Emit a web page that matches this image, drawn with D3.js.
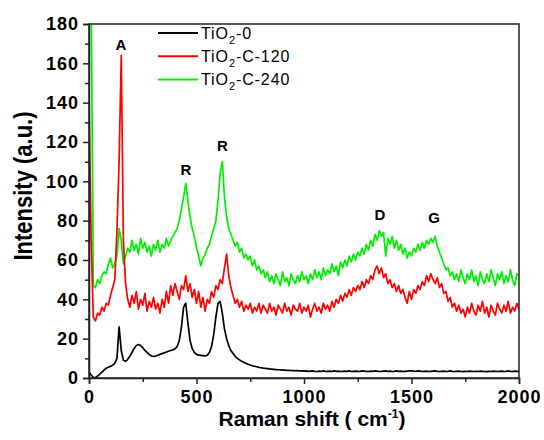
<!DOCTYPE html>
<html>
<head>
<meta charset="utf-8">
<script src="https://cdn.jsdelivr.net/npm/d3@7"></script>
<style>
  body { margin:0; background:#fff; font-family:"Liberation Sans", Arial, sans-serif; }
  .tick text { font-weight:bold; font-size:18px; letter-spacing:1px; fill:#000; }
  .domain, .tick line { stroke:#222; stroke-width:1.5px; }
</style>
</head>
<body>
<svg id=chart width=544 height=440></svg>
<script>
// Raman shift grid, cm-1 (one reading every 10 cm-1)
var shift = d3.range(0, 2001, 10)

// TiO2-0
var tio2_0 = [
 3,1.5,0.3,0.2,1,2,3,4,5,5.5,            // 0
 6,6.5,7.5,10,26,14,9,8.5,9.5,11,        // 100
 13,15,16.5,17,16.5,15.5,14,13,12,11.2,  // 200
 11,11.2,11.6,12,12.4,12.8,13.2,13.6,14,14.3, // 300
 14.8,16,19,26,36,38,28,19,15,13,        // 400
 12,11.6,11.5,11.4,11.2,11.6,13,16,22,31, // 500
 38,39,33,25,20,16.5,14,12.5,11,10,      // 600
 9.2,8.5,8,7.5,7,6.6,6.2,6,5.7,5.4,      // 700
 5.2,5,4.9,4.8,4.6,4.5,4.4,4.3,4.2,4.1,  // 800
 4,4,3.9,3.9,3.8,3.8,3.7,3.7,3.6,3.6,    // 900
 3.5,3.6,3.4,3.5,3.6,3.4,3.3,3.5,3.4,3.6, // 1000
 3.3,3.4,3.5,3.3,3.6,3.4,3.5,3.3,3.4,3.5, // 1100
 3.4,3.6,3.3,3.4,3.5,3.4,3.3,3.6,3.5,3.4, // 1200
 3.3,3.5,3.4,3.6,3.5,3.3,3.4,3.5,3.6,3.4, // 1300
 3.5,3.3,3.4,3.6,3.4,3.5,3.3,3.4,3.5,3.6, // 1400
 3.7,3.5,3.4,3.6,3.5,3.3,3.4,3.5,3.3,3.4, // 1500
 3.5,3.6,3.4,3.3,3.4,3.5,3.3,3.4,3.6,3.4, // 1600
 3.3,3.4,3.5,3.3,3.2,3.4,3.3,3.5,3.4,3.3, // 1700
 3.4,3.3,3.5,3.4,3.3,3.2,3.4,3.3,3.5,3.4, // 1800
 3.3,3.4,3.5,3.3,3.4,3.6,3.4,3.3,3.5,3.4, // 1900
 3.4]                                    // 2000

// TiO2-C-120
var tio2_c120 = [
 140,70,31,29,33,32,36,34,38,37,         // 0
 42,46,50,75,110,164,70,48,40,36,        // 100
 42,38,44,35,40,37,43,34,39,36,          // 200
 41,35,38,33,40,36,44,38,47,42,          // 300
 48,44,40,47,45,52,44,48,41,45,          // 400
 38,44,36,41,34,40,38,44,41,47,          // 500
 45,50,48,56,63,52,46,42,38,40,          // 600
 36,39,34,37,35,38,33,36,34,38,          // 700
 33,37,35,33,38,34,36,32,37,35,          // 800
 33,38,34,36,32,37,35,34,38,33,          // 900
 36,34,37,31,35,38,34,36,33,38,          // 1000
 35,37,34,39,36,40,38,42,39,43,          // 1100
 41,45,42,46,44,47,45,49,46,50,          // 1200
 48,52,50,55,57,53,56,51,53,48,          // 1300
 50,46,48,44,47,43,45,41,38,44,          // 1400
 40,45,43,47,45,49,47,52,49,53,          // 1500
 50,48,51,46,48,43,44,39,41,36,          // 1600
 38,34,37,33,35,31,36,33,38,34,          // 1700
 32,37,34,39,33,36,31,37,34,32,          // 1800
 38,35,33,37,34,39,33,36,34,38,          // 1900
 35]                                     // 2000

// TiO2-C-240
var tio2_c240 = [
 260,200,47,46,50,48,52,54,53,58,        // 0
 61,56,58,62,76,70,58,62,66,64,          // 100
 70,65,68,63,71,66,69,64,67,62,          // 200
 68,65,70,64,68,66,71,67,70,72,          // 300
 74,76,80,86,92,99,90,82,76,72,          // 400
 66,62,57,61,63,66,68,72,76,80,          // 500
 90,104,110,92,82,76,73,70,67,69,        // 600
 64,66,61,63,60,62,57,60,55,57,          // 700
 53,55,51,54,49,52,48,53,50,47,          // 800
 54,49,51,47,53,50,48,52,49,54,          // 900
 50,52,48,53,50,55,51,54,50,56,          // 1000
 52,55,53,58,54,57,52,59,56,60,          // 1100
 57,62,59,63,60,64,62,66,63,68,          // 1200
 65,70,67,73,70,75,72,74,62,71,          // 1300
 68,72,66,70,65,68,63,66,61,64,          // 1400
 62,66,64,68,65,69,66,70,68,71,          // 1500
 69,72,67,64,61,58,55,56,52,54,          // 1600
 50,53,49,55,51,48,53,50,55,49,          // 1700
 52,47,54,50,48,53,49,55,51,47,          // 1800
 53,50,54,48,52,49,55,50,47,53,          // 1900
 52]                                     // 2000

var seriesNames = ["TiO2-0", "TiO2-C-120", "TiO2-C-240"]
var seriesColors = ["#000000", "#ff0000", "#00ee00"]
var seriesValues = [tio2_0, tio2_c120, tio2_c240]

// peak labels: [label, raman shift, intensity at the letter's baseline]
var peakLabels = [["A", 148, 167], ["R", 451, 103], ["R", 620, 115.5], ["D", 1353, 80.5], ["G", 1605, 79]]

var yTicks = d3.range(0, 181, 20)
var xTicks = [0, 500, 1000, 1500, 2000]

var svg = d3.select("#chart")
var plotL = 89, plotR = 519, plotT = 24, plotB = 378

var x = d3.scaleLinear().domain([0, 2000]).range([plotL, plotR])
var y = d3.scaleLinear().domain([0, 180]).range([plotB, plotT])

svg.append("clipPath").attr("id", "plotClip")
  .append("rect").attr("x", plotL).attr("y", plotT).attr("width", plotR - plotL).attr("height", plotB - plotT)

var line = d3.line()
  .x(function(d, i) { return x(shift[i]) })
  .y(function(d) { return y(d) })

// draw green first, black last (black on top)
for (var s = 2; s >= 0; s--) {
  svg.append("path")
    .datum(seriesValues[s])
    .attr("clip-path", "url(#plotClip)")
    .attr("fill", "none")
    .attr("stroke", seriesColors[s])
    .attr("stroke-width", 1.7)
    .attr("stroke-linejoin", "round")
    .attr("d", line)
}

// frame
svg.append("rect")
  .attr("x", plotL).attr("y", plotT).attr("width", plotR - plotL).attr("height", plotB - plotT)
  .attr("fill", "none").attr("stroke", "#222").attr("stroke-width", 1.5)

// axes
svg.append("g").attr("transform", "translate(0," + plotB + ")")
  .call(d3.axisBottom(x).tickValues(xTicks).tickSize(6).tickPadding(6).tickFormat(d3.format("d")))
svg.append("g").attr("transform", "translate(0," + plotB + ")")
  .call(d3.axisBottom(x).tickValues(d3.range(250, 2000, 500)).tickSize(4).tickFormat(""))
  .select(".domain").remove()

svg.append("g").attr("transform", "translate(" + plotL + ",0)")
  .call(d3.axisLeft(y).tickValues(yTicks).tickSize(6).tickPadding(4))
svg.append("g").attr("transform", "translate(" + plotL + ",0)")
  .call(d3.axisLeft(y).tickValues(d3.range(10, 180, 20)).tickSize(4).tickFormat(""))
  .select(".domain").remove()

// axis titles
svg.append("text")
  .attr("transform", "translate(32,186) scale(1.15,1) rotate(-90)")
  .attr("text-anchor", "middle")
  .style("font-weight", "bold").style("font-size", "22px")
  .text("Intensity (a.u.)")

var xt = svg.append("text")
  .attr("x", 312).attr("y", 426)
  .attr("text-anchor", "middle")
  .style("font-weight", "bold").style("font-size", "21px")
xt.append("tspan").text("Raman shift ( cm")
xt.append("tspan").attr("dy", -8).style("font-size", "12px").text("-1")
xt.append("tspan").attr("dy", 8).text(")")

// peak labels
svg.selectAll(".peak").data(peakLabels).enter().append("text")
  .attr("class", "peak")
  .attr("x", function(d) { return x(d[1]) })
  .attr("y", function(d) { return y(d[2]) })
  .attr("text-anchor", "middle")
  .style("font-weight", "bold").style("font-size", "15px")
  .text(function(d) { return d[0] })

// legend
var legend = svg.append("g").attr("transform", "translate(158,33)")
seriesNames.forEach(function(name, i) {
  var g = legend.append("g").attr("transform", "translate(0," + (i * 23.3) + ")")
  g.append("line").attr("x1", 0).attr("x2", 40).attr("stroke", seriesColors[i]).attr("stroke-width", 2)
  var t = g.append("text").attr("x", 43).attr("y", 5.5).style("font-size", "16px").style("letter-spacing", "0.9px")
  var k = name.indexOf("2")
  t.append("tspan").text(name.slice(0, k))
  t.append("tspan").attr("dy", 5).style("font-size", "11px").text("2")
  t.append("tspan").attr("dy", -5).text(name.slice(k + 1))
})
</script>
</body>
</html>
